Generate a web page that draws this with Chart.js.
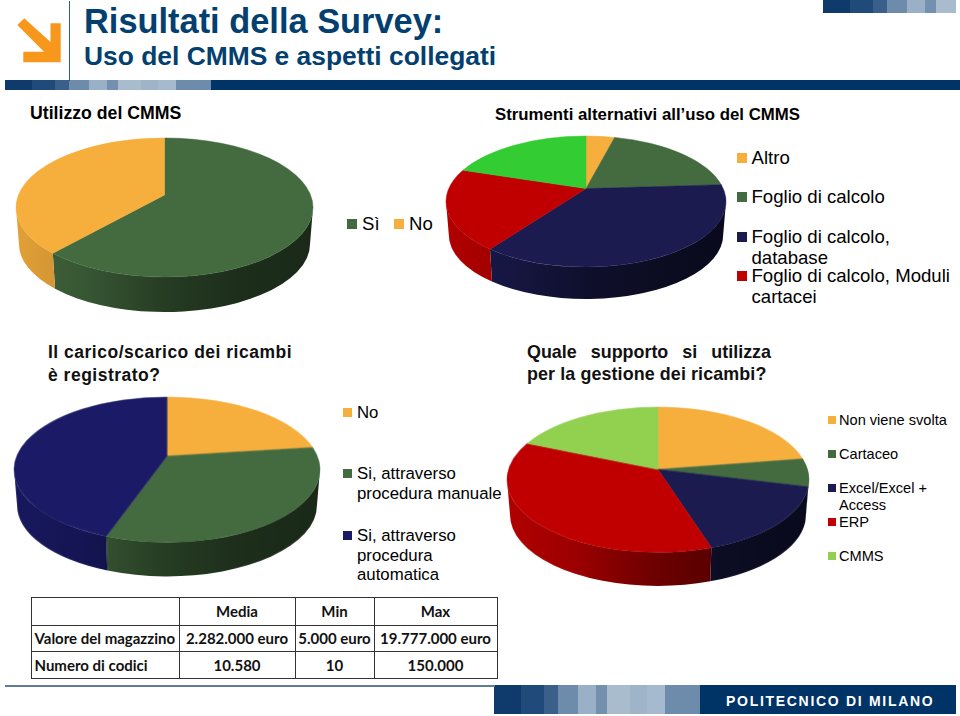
<!DOCTYPE html>
<html>
<head>
<meta charset="utf-8">
<title>Risultati della Survey</title>
<script src="https://cdn.jsdelivr.net/npm/chart.js@4"></script>
<style>
  html, body { margin:0; padding:0; background:#fff; }
  #slide { position:relative; width:960px; height:716px; overflow:hidden; font-family:"Liberation Sans",Arial,sans-serif; color:#000; }
  #slide > * { position:absolute; }
  .line { white-space:nowrap; line-height:1; }
  .block { height:100%; position:absolute; top:0; }
  canvas { display:block; }
  table { border-collapse:collapse; table-layout:fixed; font-family:Lato,sans-serif; font-weight:700; font-size:15px; color:#111; }
  td { border:1px solid #333; padding:0; text-align:center; white-space:nowrap; overflow:visible; }
  td:first-child { text-align:left; padding-left:3px; }
</style>
</head>
<body>
<div id="slide"></div>
<script>
// colours
const ORANGE = '#F6AE3C', GREEN = '#446B3F', NAVY = '#1B1B50', RED = '#C00000', LIME = '#33CC33', LIGHTGREEN = '#92D050';

// Utilizzo del CMMS
const usoLabels = ['Sì', 'No'];
const usoValues = [61.5, 38.5];
const usoColors = [GREEN, ORANGE];

// Strumenti alternativi
const strumentiLabels = ['Altro', 'Foglio di calcolo', 'Foglio di calcolo,\ndatabase', 'Foglio di calcolo, Moduli\ncartacei', 'Altri strumenti'];
const strumentiValues = [4, 20, 36, 20, 20];
const strumentiColors = [ORANGE, GREEN, NAVY, RED, LIME];

// Carico/scarico ricambi
const caricoLabels = ['No', 'Si, attraverso\nprocedura manuale', 'Si, attraverso\nprocedura\nautomatica'];
const caricoValues = [23, 32.4, 44.6];
const caricoColors = [ORANGE, GREEN, '#1A1A66'];

// Supporto gestione ricambi
const supportoLabels = ['Non viene svolta', 'Cartaceo', 'Excel/Excel +\nAccess', 'ERP', 'CMMS'];
const supportoValues = [22.6, 6.2, 16.2, 36.3, 18.7];
const supportoColors = [ORANGE, GREEN, NAVY, RED, LIGHTGREEN];

// tabella
const tableHeader = ['', 'Media', 'Min', 'Max'];
const tableRows = [
  ['Valore del magazzino', '2.282.000 euro', '5.000 euro', '19.777.000 euro'],
  ['Numero di codici', '10.580', '10', '150.000']
];

const slide = document.getElementById('slide');

function text(str, x, yMid, font, color, extra) {
  const d = document.createElement('div');
  d.className = 'line';
  d.textContent = str;
  d.style.cssText = `left:${x}px;top:${yMid}px;font:${font};color:${color || '#000'};transform:translateY(-50%);${extra || ''}`;
  slide.appendChild(d);
  return d;
}

function bar(x, y, w, h, stops) {
  const b = document.createElement('div');
  b.style.cssText = `left:${x}px;top:${y}px;width:${w}px;height:${h}px;overflow:hidden`;
  stops.forEach(([x0, x1, c]) => {
    const s = document.createElement('div');
    s.className = 'block';
    s.style.cssText = `left:${x0 - x}px;width:${x1 - x0}px;background:${c}`;
    b.appendChild(s);
  });
  slide.appendChild(b);
}

// header and footer decoration
const stripe = [[0, 27, '#0f3a6c'], [27, 50, '#1f4a7a'], [50, 64, '#3a5f8a'], [64, 84, '#6d8bab'], [84, 102, '#9ab0c6'], [102, 113, '#7390ae'],
  [113, 136, '#a8bccd'], [136, 153, '#9fb4c9'], [153, 171, '#a5bace'], [171, 206, '#6d8bab']];
const shift = (dx) => stripe.map(([a, b, c]) => [a + dx, b + dx, c]);

bar(5, 80, 955, 10, [[5, 960, '#003366'], ...shift(5)]);
bar(823, 0, 133, 13, shift(823).slice(0, 7));
bar(494, 685, 462, 29, [[494, 956, '#003366'], ...shift(494)]);

const rule = document.createElement('div');
rule.style.cssText = 'left:68.5px;top:1px;width:1.2px;height:80px;background:#2d5d8b';
slide.appendChild(rule);
const foot = document.createElement('div');
foot.style.cssText = 'left:5px;top:684.5px;width:490px;height:2px;background:#5f7c97';
slide.appendChild(foot);

const arrow = document.createElement('div');
arrow.style.cssText = 'left:0;top:0';
arrow.innerHTML = '<svg width="70" height="70"><polygon fill="#F7981D" points="24.3,18.3 50.5,42 50.5,23.3 60.7,23.3 60.7,62.3 23.3,62.3 23.3,51.7 44,51.7 17.3,25"/></svg>';
slide.appendChild(arrow);

text('Risultati della Survey:', 84, 21, 'bold 34.4px "Liberation Sans"', '#033F6F');
text('Uso del CMMS e aspetti collegati', 84, 56, 'bold 26.4px "Liberation Sans"', '#033F6F');
text('POLITECNICO DI MILANO', 726, 701, 'bold 14px "Liberation Sans"', '#fff', 'letter-spacing:1.7px');

text('Utilizzo del CMMS', 30, 113, 'bold 17.7px "Liberation Sans"');
text('Strumenti alternativi all’uso del CMMS', 495, 114.5, 'bold 16.8px "Liberation Sans"');
text('Il carico/scarico dei ricambi', 48, 352, 'bold 17.5px "Liberation Sans"', '#111', 'letter-spacing:.5px');
text('è registrato?', 48, 375, 'bold 17.5px "Liberation Sans"', '#111', 'letter-spacing:.5px');
text('Quale supporto si utilizza', 527, 352, 'bold 17.9px "Liberation Sans"', '#111', 'width:244px;text-align:justify;text-align-last:justify;white-space:normal');
text('per la gestione dei ricambi?', 527, 374, 'bold 17.9px "Liberation Sans"', '#111', 'letter-spacing:.1px');

// darker copy of a colour for the side wall
function shade(hex, f) {
  const n = parseInt(hex.slice(1), 16);
  const c = [n >> 16, (n >> 8) & 255, n & 255].map(v => Math.round(v * f));
  return `rgb(${c[0]},${c[1]},${c[2]})`;
}

const wallStops = [[0, .92], [.22, .82], [.5, .56], [.75, .43], [1, .38]];

// draws the library's arcs as a pie seen in perspective
const tiltedPie = {
  id: 'tiltedPie',
  beforeDatasetsDraw(chart, args, opts) {
    const { ctx, chartArea } = chart;
    const cx = (chartArea.left + chartArea.right) / 2;
    const rx = (chartArea.right - chartArea.left) / 2;
    const ry = opts.ry, k = opts.k;
    const cy = chartArea.top + ry;
    const s = Math.sqrt(1 - k * k);
    const rb = .98;
    const cyB = cy + ry + opts.depth - ry * rb;
    const TAU = Math.PI * 2;
    const rim = a => {
      const x = Math.cos(a), y = Math.sin(a), d = 1 + k * y;
      return Math.atan2((y + k) / d, x * s / d);
    };
    const arcs = chart.getDatasetMeta(0).data;
    const colors = chart.data.datasets[0].backgroundColor;
    const spans = arcs.map(el => {
      let t0 = rim(el.startAngle), t1 = rim(el.endAngle);
      if (t0 < 0) t0 += TAU;
      while (t1 <= t0) t1 += TAU;
      return [t0, t1];
    });

    // side wall
    spans.forEach(([t0, t1], i) => {
      [[0, Math.PI], [TAU, TAU + Math.PI]].forEach(([lo, hi]) => {
        const a = Math.max(t0, lo), b = Math.min(t1, hi);
        if (b <= a) return;
        const g = ctx.createLinearGradient(cx - rx, 0, cx + rx, 0);
        wallStops.forEach(([p, f]) => g.addColorStop(p, shade(colors[i], f)));
        ctx.beginPath();
        ctx.ellipse(cx, cy, rx, ry, 0, a, b, false);
        ctx.ellipse(cx, cyB, rx * rb, ry * rb, 0, b, a, true);
        ctx.closePath();
        ctx.fillStyle = g;
        ctx.fill();
      });
    });

    // top face
    spans.forEach(([t0, t1], i) => {
      ctx.beginPath();
      ctx.moveTo(cx, cy + k * ry);
      ctx.ellipse(cx, cy, rx, ry, 0, t0, t1, false);
      ctx.closePath();
      ctx.fillStyle = colors[i];
      ctx.strokeStyle = colors[i];
      ctx.lineWidth = .5;
      ctx.fill();
      ctx.stroke();
    });
    return false;
  }
};

function makePie(labels, values, colors, box) {
  const c = document.createElement('canvas');
  const pad = 2;
  const w = box.rx * 2, h = box.ry * 2 + box.depth + 1;
  c.width = w + pad * 2;
  c.height = h + pad * 2;
  c.style.cssText = `left:${box.cx - box.rx - pad}px;top:${box.top - pad}px;width:${w + pad * 2}px;height:${h + pad * 2}px`;
  slide.appendChild(c);
  new Chart(c, {
    type: 'pie',
    data: {
      labels: labels,
      datasets: [{ data: values, backgroundColor: colors, borderWidth: 0 }]
    },
    options: {
      responsive: false,
      animation: false,
      layout: { padding: pad },
      plugins: {
        legend: { display: false },
        tooltip: { enabled: false },
        tiltedPie: { ry: box.ry, k: box.k, depth: box.depth }
      }
    },
    plugins: [tiltedPie]
  });
}

makePie(usoLabels, usoValues, usoColors, { cx: 164.5, rx: 148.5, top: 138, ry: 69.5, k: -.18, depth: 35 });
makePie(strumentiLabels, strumentiValues, strumentiColors, { cx: 586, rx: 140, top: 135.7, ry: 65.5, k: -.197, depth: 32 });
makePie(caricoLabels, caricoValues, caricoColors, { cx: 167, rx: 152.8, top: 397.3, ry: 72.2, k: -.187, depth: 34 });
makePie(supportoLabels, supportoValues, supportoColors, { cx: 658, rx: 151, top: 407.3, ry: 72.2, k: -.141, depth: 33.5 });

// legends: one entry per slice, y of each text line
function legend(labels, colors, sqX, sqSize, txtX, font, ys) {
  labels.forEach((lab, i) => {
    if (!ys[i]) return;
    const lines = lab.split('\n');
    const sq = document.createElement('div');
    sq.style.cssText = `left:${sqX}px;top:${ys[i][0] - sqSize / 2}px;width:${sqSize}px;height:${sqSize}px;background:${colors[i]}`;
    slide.appendChild(sq);
    lines.forEach((ln, j) => text(ln, txtX, ys[i][j], font));
  });
}

legend(strumentiLabels.slice(0, 4), strumentiColors, 737, 10, 751.5, '18.6px "Liberation Sans"', [[157.5], [197], [236.5, 258], [276, 297]]);
legend(caricoLabels, caricoColors, 343, 9, 357, '16.8px "Liberation Sans"', [[412.5], [473.5, 494], [535.5, 555.5, 575]]);
legend(supportoLabels, supportoColors, 828, 8, 839, '14.6px "Liberation Sans"', [[420], [454], [488, 505], [522], [556]]);

[['Sì', GREEN, 347, 362], ['No', ORANGE, 394, 409]].forEach(([t, col, sx, tx]) => {
  const sq = document.createElement('div');
  sq.style.cssText = `left:${sx}px;top:219px;width:10px;height:10px;background:${col}`;
  slide.appendChild(sq);
  text(t, tx, 224, '18.6px "Liberation Sans"');
});

// tabella riepilogo
const tbl = document.createElement('table');
tbl.style.cssText = 'left:30.5px;top:596.5px;width:466px';
const colW = [148, 116, 79, 123];
const rowH = [28, 26, 27];
tbl.innerHTML = '<colgroup>' + colW.map(w => `<col style="width:${w}px">`).join('') + '</colgroup>' +
  [tableHeader, ...tableRows].map((r, i) =>
    `<tr style="height:${rowH[i]}px">` + r.map(v => `<td>${v}</td>`).join('') + '</tr>').join('');
slide.appendChild(tbl);
</script>
</body>
</html>
